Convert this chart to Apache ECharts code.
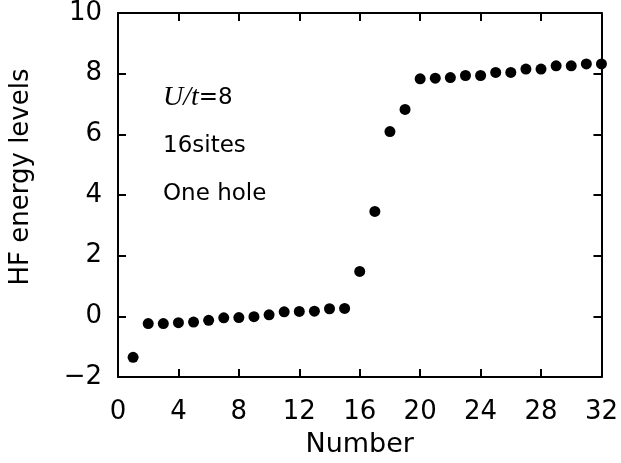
<!DOCTYPE html>
<html>
<head>
<meta charset="utf-8">
<script src="https://cdn.jsdelivr.net/npm/echarts@6/dist/echarts.min.js"></script>
<style>
  html, body { margin: 0; padding: 0; background: #fff; }
  #main { width: 621px; height: 463px; }
</style>
</head>
<body>
<div id="main"></div>
<script>
// level index (1..32) and HF energy
var levelNumber = [1, 2, 3, 4, 5, 6, 7, 8, 9, 10, 11, 12, 13, 14, 15, 16,
                   17, 18, 19, 20, 21, 22, 23, 24, 25, 26, 27, 28, 29, 30, 31, 32]
var hfEnergy = [-1.35, -0.24, -0.24, -0.21, -0.19, -0.13, -0.05, -0.04, -0.01, 0.05, 0.15, 0.16, 0.17, 0.25, 0.26, 1.48,
                3.46, 6.09, 6.82, 7.83, 7.85, 7.87, 7.94, 7.94, 8.04, 8.04, 8.15, 8.15, 8.26, 8.26, 8.32, 8.32]
var xTicks = [0, 4, 8, 12, 16, 20, 24, 28, 32]
var yTicks = [-2, 0, 2, 4, 6, 8, 10]

var chart = echarts.init(document.getElementById('main'), null, { renderer: 'canvas' })

var font = 'DejaVu Sans'
var black = '#000'

var points = levelNumber.map(function (n, i) { return [n, hfEnergy[i]] })

// top / right frame: line + inward ticks, no labels
function frameAxis(pos) {
  var isX = pos === 'top'
  return {
    type: 'value', position: pos,
    min: isX ? xTicks[0] : yTicks[0],
    max: isX ? xTicks[xTicks.length - 1] : yTicks[yTicks.length - 1],
    interval: isX ? 4 : 2,
    axisLine: { show: true, onZero: false, lineStyle: { color: black, width: 2 } },
    axisTick: { show: true, inside: true, length: 8, lineStyle: { color: black, width: 2 } },
    axisLabel: { show: false },
    splitLine: { show: false }
  }
}

var option = {
  backgroundColor: '#fff',
  animation: false,
  grid: { left: 118, right: 19, top: 10, bottom: 86 },
  xAxis: [{
    type: 'value',
    min: xTicks[0], max: xTicks[xTicks.length - 1], interval: 4,
    name: 'Number', nameLocation: 'middle', nameGap: 54,
    nameTextStyle: { fontFamily: font, fontSize: 27, color: black },
    axisLine: { onZero: false, lineStyle: { color: black, width: 2 } },
    axisTick: { inside: true, length: 8, lineStyle: { color: black, width: 2 } },
    axisLabel: { fontFamily: font, fontSize: 26, color: black, margin: 22 },
    splitLine: { show: false }
  }, frameAxis('top')],
  yAxis: [{
    type: 'value',
    min: yTicks[0], max: yTicks[yTicks.length - 1], interval: 2,
    name: 'HF energy levels', nameLocation: 'middle', nameGap: 84,
    nameTextStyle: { fontFamily: font, fontSize: 26, color: black, padding: [0, 0, 0, 36] },
    axisLine: { onZero: false, lineStyle: { color: black, width: 2 } },
    axisTick: { inside: true, length: 8, lineStyle: { color: black, width: 2 } },
    axisLabel: {
      fontFamily: font, fontSize: 26, color: black, margin: 16,
      formatter: function (v) { return String(v).replace('-', '\u2212') }
    },
    splitLine: { show: false }
  }, frameAxis('right')],
  series: [{
    type: 'scatter',
    data: points,
    symbol: 'circle',
    symbolSize: 11,
    clip: true,
    itemStyle: { color: black, opacity: 1 }
  }],
  graphic: [
    {
      type: 'text', left: 163, top: 84,
      style: {
        text: '{i|U}{i|/}{i|t}=8',
        fontFamily: font, fontSize: 23, fill: black,
        rich: { i: { fontFamily: 'Liberation Serif', fontStyle: 'italic', fontSize: 28, fill: black } }
      }
    },
    { type: 'text', left: 163, top: 135, style: { text: '16sites', fontFamily: font, fontSize: 23, fill: black } },
    { type: 'text', left: 163, top: 183, style: { text: 'One hole', fontFamily: font, fontSize: 23, fill: black } }
  ]
}

chart.setOption(option)
</script>
</body>
</html>
